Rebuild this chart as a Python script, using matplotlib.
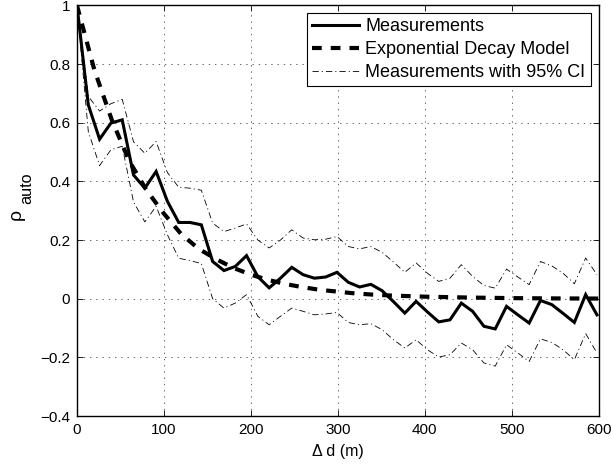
import numpy as np
import matplotlib
matplotlib.use("Agg")
import matplotlib.pyplot as plt

plt.rcParams['font.family'] = ['Liberation Sans', 'DejaVu Sans']
plt.rcParams['lines.scale_dashes'] = False

# ---------------- data ----------------
distance = np.arange(47) * 13.0  # separation distance (m)

measurements = [1.0, 0.661, 0.544, 0.599, 0.610, 0.422, 0.377, 0.434, 0.332, 0.260,
                0.260, 0.252, 0.127, 0.096, 0.110, 0.147, 0.075, 0.037, 0.070, 0.107,
                0.082, 0.070, 0.074, 0.090, 0.056, 0.040, 0.049, 0.027, -0.010, -0.049,
                -0.009, -0.045, -0.079, -0.072, -0.015, -0.043, -0.094, -0.103, -0.026, -0.055,
                -0.083, -0.006, -0.020, -0.050, -0.081, 0.014, -0.055]

ci_upper = [1.0, 0.69, 0.64, 0.665, 0.68, 0.535, 0.496, 0.536, 0.43, 0.38,
            0.377, 0.37, 0.258, 0.229, 0.241, 0.255, 0.20, 0.173, 0.20, 0.235,
            0.207, 0.201, 0.203, 0.212, 0.178, 0.170, 0.178, 0.158, 0.125, 0.090,
            0.122, 0.087, 0.059, 0.070, 0.116, 0.076, 0.045, 0.036, 0.101, 0.074,
            0.048, 0.127, 0.112, 0.087, 0.051, 0.139, 0.082]

ci_lower = [1.0, 0.57, 0.454, 0.508, 0.52, 0.33, 0.262, 0.315, 0.218, 0.138,
            0.13, 0.12, 0.0, -0.032, -0.015, 0.014, -0.06, -0.089, -0.06, -0.032,
            -0.043, -0.055, -0.052, -0.047, -0.081, -0.089, -0.085, -0.106, -0.14, -0.168,
            -0.14, -0.174, -0.199, -0.191, -0.151, -0.174, -0.219, -0.23, -0.157, -0.185,
            -0.214, -0.137, -0.149, -0.174, -0.208, -0.119, -0.185]

model_d = [0, 20, 40, 60, 80, 100, 120, 140, 160, 180, 200, 220, 240, 260, 280, 300,
           320, 340, 360, 380, 400, 450, 500, 550, 600]
model_rho = [1.0, 0.78, 0.61, 0.47, 0.37, 0.29, 0.22, 0.17, 0.135, 0.105, 0.082, 0.064,
             0.05, 0.039, 0.03, 0.024, 0.018, 0.014, 0.011, 0.009, 0.007, 0.004, 0.002,
             0.001, 0.0005]

xticks = [0, 100, 200, 300, 400, 500, 600]
yticks = [-0.4, -0.2, 0, 0.2, 0.4, 0.6, 0.8, 1]
ytick_labels = ['\u22120.4', '\u22120.2', '0', '0.2', '0.4', '0.6', '0.8', '1']

labels = ['Measurements', 'Exponential Decay Model', 'Measurements with 95% CI']

# ---------------- figure ----------------
W, H = 611, 465
fig = plt.figure(figsize=(W / 100, H / 100), dpi=100)
left, right, top, bottom = 77, 598.7, 5.5, 416
ax = fig.add_axes([left / W, (H - bottom) / H, (right - left) / W, (bottom - top) / H])

ax.plot(distance, measurements, color='black', lw=2.2, solid_joinstyle='miter',
        label=labels[0], zorder=4)
ax.plot(model_d, model_rho, color='black', lw=3.0, dashes=(7, 6.5),
        label=labels[1], zorder=5)
ax.plot(distance, ci_upper, color='black', lw=0.6, dashes=(4.5, 2.2, 0.8, 2.2),
        label=labels[2], zorder=3)
ax.plot(distance, ci_lower, color='black', lw=0.6, dashes=(4.5, 2.2, 0.8, 2.2),
        zorder=3)

ax.set_xlim(0, 600)
ax.set_ylim(-0.4, 1)
ax.set_xticks(xticks)
ax.set_yticks(yticks)
ax.set_yticklabels(ytick_labels)
ax.tick_params(direction='in', top=True, right=True, length=4, width=0.6,
               labelsize=11, colors='black', pad=5)
ax.grid(True, color='0.3', linestyle=(0, (1, 3.5)), lw=0.6)
for s in ax.spines.values():
    s.set_linewidth(1.0)
    s.set_color('black')

ax.set_xlabel('\u0394 d (m)', fontsize=11.5, labelpad=5)

# y label: rho with subscript "auto"
fig.text(16.5 / W, 1 - 214 / H, '\u03c1', rotation=90, fontsize=14,
         ha='center', va='center')
fig.text(26.5 / W, 1 - 188 / H, 'auto', rotation=90, fontsize=11.7,
         ha='center', va='center')

# legend: right edge ~591 px, top ~13 px
bx = (591 - left) / (right - left)
by = (bottom - 13) / (bottom - top)
leg = ax.legend(loc='upper right', bbox_to_anchor=(bx, by), borderaxespad=0,
                fancybox=False, edgecolor='black', framealpha=1, fontsize=13,
                handlelength=2.6, labelspacing=0.32, handletextpad=0.35,
                borderpad=0.3)
leg.get_frame().set_linewidth(0.8)

fig.savefig('out.png', dpi=100)
